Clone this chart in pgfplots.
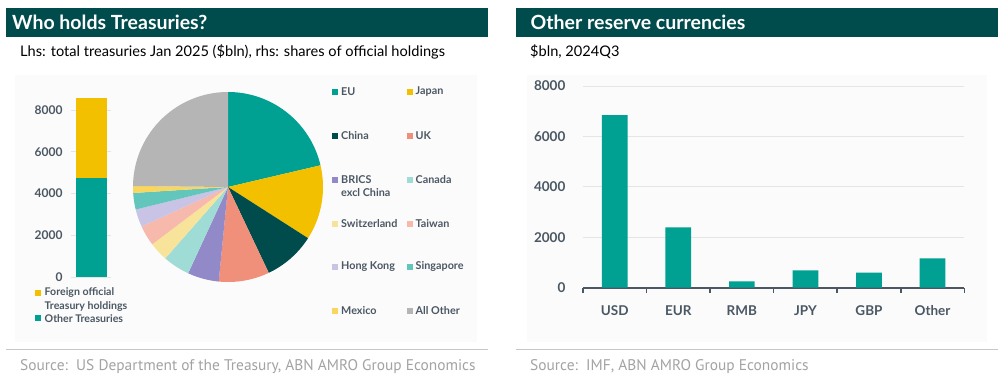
\documentclass[border=0pt]{standalone}
\usepackage{fontspec}
\setmainfont{Lato}
\newfontfamily\srcfont{PT Sans}
\usepackage{pgfplots}
\pgfplotsset{compat=1.18}
\definecolor{ttl}{HTML}{004C4D}
\definecolor{bgc}{HTML}{FBFBFB}
\definecolor{axc}{HTML}{4B5864}
\definecolor{lblc}{HTML}{4B5864}
\definecolor{cEU}{HTML}{00A092}
\definecolor{cJP}{HTML}{F3C000}
\definecolor{cCN}{HTML}{004C4C}
\definecolor{cUK}{HTML}{F0907A}
\definecolor{cBR}{HTML}{9189C8}
\definecolor{cCA}{HTML}{9EDCD5}
\definecolor{cCH}{HTML}{F8E39A}
\definecolor{cTW}{HTML}{F6B9AC}
\definecolor{cHK}{HTML}{C9C4E5}
\definecolor{cSG}{HTML}{62C6BC}
\definecolor{cMX}{HTML}{F8D660}
\definecolor{cAO}{HTML}{B5B5B5}
\definecolor{srcc}{HTML}{A3A3A3}
\begin{document}
\begin{tikzpicture}
\begin{scope}[x=1pt,y=1pt]
\path[use as bounding box, fill=white] (0,0) rectangle (1008,383);
% panel backgrounds
\fill[bgc] (15,308) rectangle (477,41);
\fill[bgc] (527,308) rectangle (987,41);
% title bars
\fill[ttl] (6,375) rectangle (488,346);
\node[anchor=west, inner sep=0, text=white, font=\bfseries\fontsize{19.5}{22}\selectfont] at (12,361) {Who holds Treasuries?};
\fill[ttl] (516,375) rectangle (998,346);
\node[anchor=west, inner sep=0, text=white, font=\bfseries\fontsize{19.5}{22}\selectfont] at (530.5,361) {Other reserve currencies};
% subtitles
\node[anchor=west, inner sep=0, font=\fontsize{14.6}{16}\selectfont] at (20,331) {Lhs: total treasuries Jan 2025 (\$bln), rhs: shares of official holdings};
\node[anchor=west, inner sep=0, font=\fontsize{14.6}{16}\selectfont] at (530,331) {\$bln, 2024Q3};
% bottom rules and sources
\draw[black!22, line width=0.8pt] (6,34) -- (488,34);
\draw[black!22, line width=0.8pt] (516,34) -- (998,34);
\node[anchor=west, inner sep=0, text=srcc, font=\srcfont\fontsize{15.4}{17}\selectfont] at (20,16) {Source:\ \ US Department of the Treasury, ABN AMRO Group Economics};
\node[anchor=west, inner sep=0, text=srcc, font=\srcfont\fontsize{15.4}{17}\selectfont] at (530,16) {Source:\ \ IMF, ABN AMRO Group Economics};
% legend of stacked bar
\fill[cJP] (35,87.3) rectangle (41,93.3);
\node[anchor=west, inner sep=0, text=lblc, font=\bfseries\fontsize{10.6}{12}\selectfont] at (44.5,90.3) {Foreign official};
\node[anchor=west, inner sep=0, text=lblc, font=\bfseries\fontsize{10.6}{12}\selectfont] at (44.5,76.3) {Treasury holdings};
\fill[cEU] (35,61.7) rectangle (41,67.7);
\node[anchor=west, inner sep=0, text=lblc, font=\bfseries\fontsize{10.6}{12}\selectfont] at (44.5,64.7) {Other Treasuries};
% pie legend
\tikzset{lg/.style={anchor=west, inner sep=0, text=lblc, font=\bfseries\fontsize{10.8}{12}\selectfont}}
\fill[cEU] (332.3,288.3) rectangle (338.3,294.3); \node[lg] at (341,291.3) {EU};
\fill[cJP] (406.7,288.3) rectangle (412.7,294.3); \node[lg] at (415.5,291.3) {Japan};
\fill[cCN] (332.3,244.3) rectangle (338.3,250.3); \node[lg] at (341,247.3) {China};
\fill[cUK] (406.7,244.3) rectangle (412.7,250.3); \node[lg] at (415.5,247.3) {UK};
\fill[cBR] (332.3,200) rectangle (338.3,206); \node[lg] at (341,203) {BRICS};
\node[lg] at (341,190.3) {excl China};
\fill[cCA] (406.7,200) rectangle (412.7,206); \node[lg] at (415.5,203) {Canada};
\fill[cCH] (332.3,156.3) rectangle (338.3,162.3); \node[lg] at (341,159.3) {Switzerland};
\fill[cTW] (406.7,156.3) rectangle (412.7,162.3); \node[lg] at (415.5,159.3) {Taiwan};
\fill[cHK] (332.3,113.3) rectangle (338.3,119.3); \node[lg] at (341,116.3) {Hong Kong};
\fill[cSG] (406.7,113.3) rectangle (412.7,119.3); \node[lg] at (415.5,116.3) {Singapore};
\fill[cMX] (332.3,69.3) rectangle (338.3,75.3); \node[lg] at (341,72.3) {Mexico};
\fill[cAO] (406.7,69.3) rectangle (412.7,75.3); \node[lg] at (415.5,72.3) {All Other};
\end{scope}

% ---------- left: stacked bar of total treasuries ----------
\begin{axis}[at={(71pt,106pt)}, anchor=south west, scale only axis,
  width=40pt, height=187.9pt,
  xmin=-0.5, xmax=0.5, ymin=0, ymax=9000,
  ybar stacked, bar width=31pt,
  axis line style={draw=none},
  xtick=\empty, ytick={0,2000,4000,6000,8000},
  major tick length=0pt,
  ymajorgrids, grid style={color=black!10, line width=0.6pt},
  yticklabel style={font=\bfseries\fontsize{12}{14}\selectfont, text=lblc, xshift=-5pt},
  scaled y ticks=false,
  /pgf/number format/assume math mode=true,
  yticklabel={\pgfmathprintnumber[fixed,1000 sep={}]{\tick}},
  clip=false]
\addplot[fill=cEU, draw=none] coordinates {(0,4730)};
\addplot[fill=cJP, draw=none] coordinates {(0,3830)};
\end{axis}

% ---------- left: pie of official holdings ----------
% shares (%): EU 21.3, Japan 12.7, China 8.9, UK 8.6, BRICS excl China 5.3, Canada 4.6,
% Switzerland 3.2, Taiwan 3.5, Hong Kong 3.0, Singapore 2.8, Mexico 1.2, All Other 24.8
% wedge boundaries in degrees, clockwise from 12 o'clock
\begin{axis}[at={(228pt,196pt)}, anchor=center, scale only axis,
  width=190pt, height=190pt, xmin=-1, xmax=1, ymin=-1, ymax=1,
  hide axis, clip=false, samples=40]
\addplot[fill=cEU, draw=none, domain=13.2:90]    ({cos(x)},{sin(x)}) -- (axis cs:0,0) -- cycle;
\addplot[fill=cJP, draw=none, domain=-32.6:13.2] ({cos(x)},{sin(x)}) -- (axis cs:0,0) -- cycle;
\addplot[fill=cCN, draw=none, domain=-64.6:-32.6] ({cos(x)},{sin(x)}) -- (axis cs:0,0) -- cycle;
\addplot[fill=cUK, draw=none, domain=-95.6:-64.6] ({cos(x)},{sin(x)}) -- (axis cs:0,0) -- cycle;
\addplot[fill=cBR, draw=none, domain=-114.8:-95.6] ({cos(x)},{sin(x)}) -- (axis cs:0,0) -- cycle;
\addplot[fill=cCA, draw=none, domain=-131.3:-114.8] ({cos(x)},{sin(x)}) -- (axis cs:0,0) -- cycle;
\addplot[fill=cCH, draw=none, domain=-142.9:-131.3] ({cos(x)},{sin(x)}) -- (axis cs:0,0) -- cycle;
\addplot[fill=cTW, draw=none, domain=-155.4:-142.9] ({cos(x)},{sin(x)}) -- (axis cs:0,0) -- cycle;
\addplot[fill=cHK, draw=none, domain=-166.3:-155.4] ({cos(x)},{sin(x)}) -- (axis cs:0,0) -- cycle;
\addplot[fill=cSG, draw=none, domain=-176.4:-166.3] ({cos(x)},{sin(x)}) -- (axis cs:0,0) -- cycle;
\addplot[fill=cMX, draw=none, domain=-180.6:-176.4] ({cos(x)},{sin(x)}) -- (axis cs:0,0) -- cycle;
\addplot[fill=cAO, draw=none, domain=-270:-180.6] ({cos(x)},{sin(x)}) -- (axis cs:0,0) -- cycle;
\end{axis}

% ---------- right: reserve currencies ----------
\begin{axis}[at={(583pt,95.3pt)}, anchor=south west, scale only axis,
  width=381.3pt, height=201.7pt,
  xmin=-0.5, xmax=5.5, ymin=0, ymax=8000,
  ybar, bar width=25.7pt,
  axis lines=left,
  y axis line style={draw=none},
  x axis line style={draw=axc, line width=1.6pt, -},
  ytick={0,2000,4000,6000,8000},
  ytick style={draw=none},
  xtick={0,1,2,3,4,5},
  xticklabels={USD,EUR,RMB,JPY,GBP,Other},
  xtick style={draw=none},
  extra x ticks={-0.5,0.5,1.5,2.5,3.5,4.5,5.5},
  extra x tick labels={},
  extra x tick style={xtick style={draw=axc, line width=1.6pt}, major tick length=5pt, tick align=outside},
  ymajorgrids, grid style={color=black!10, line width=0.8pt},
  scaled y ticks=false,
  /pgf/number format/assume math mode=true,
  yticklabel={\pgfmathprintnumber[fixed,1000 sep={}]{\tick}},
  yticklabel style={font=\bfseries\fontsize{13.5}{15}\selectfont, text=lblc, xshift=-12pt},
  xticklabel style={font=\bfseries\fontsize{13.5}{15}\selectfont, text=lblc, yshift=-12pt},
  clip=false]
\addplot[fill=cEU, draw=none] coordinates {(0,6840) (1,2392) (2,253) (3,689) (4,594) (5,1164)};
\end{axis}
\end{tikzpicture}
\end{document}
